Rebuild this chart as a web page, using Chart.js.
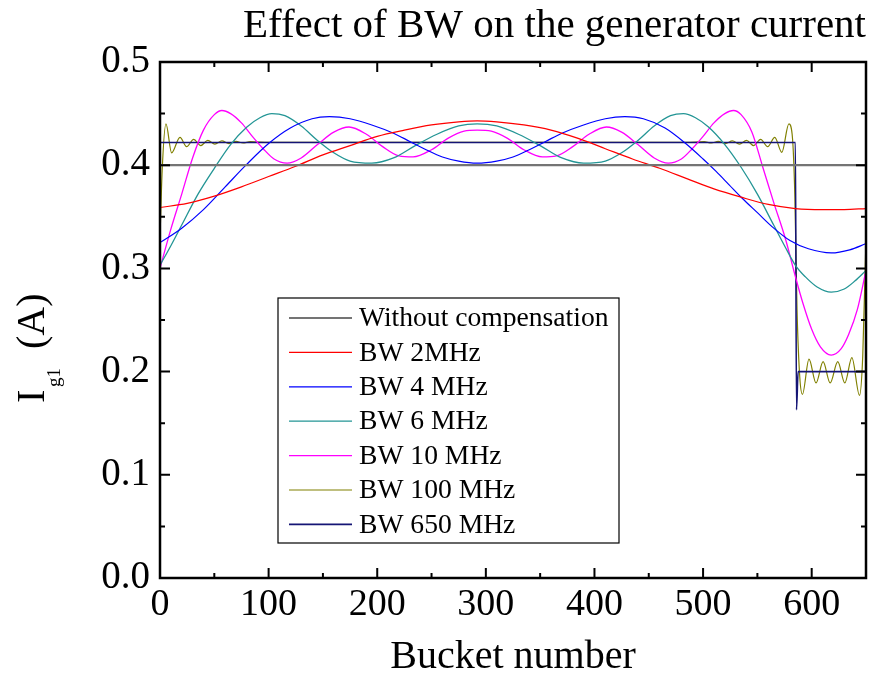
<!DOCTYPE html>
<html>
<head>
<meta charset="utf-8">
<title>Effect of BW on the generator current</title>
<script src="https://cdn.jsdelivr.net/npm/chart.js@4/dist/chart.umd.min.js"></script>
<style>
  body { margin: 0; background: #fff; }
  canvas { display: block; }
</style>
</head>
<body>
<canvas id="chart" width="874" height="681"></canvas>
<script>
// axis ticks
const bucketTicks = [0, 100, 200, 300, 400, 500, 600];
const currentTicks = [0, 0.1, 0.2, 0.3, 0.4, 0.5];

// [bucket, Ig1 (A)]
const noCompensation = [[0, 0.400], [650, 0.400]];

const bw2 = [[0, 0.359], [25, 0.363], [50, 0.370], [75, 0.379], [100, 0.389], [125, 0.399], [150, 0.410],
  [175, 0.419], [200, 0.428], [225, 0.434], [250, 0.439], [275, 0.442], [292, 0.443], [310, 0.442],
  [335, 0.439], [360, 0.434], [385, 0.426], [410, 0.416], [435, 0.406], [460, 0.397], [485, 0.387],
  [510, 0.377], [535, 0.369], [560, 0.362], [585, 0.358], [610, 0.357], [630, 0.357], [650, 0.358]];

const bw4 = [[0, 0.325], [20, 0.339], [40, 0.357], [60, 0.379], [80, 0.401], [100, 0.421], [120, 0.436],
  [140, 0.445], [156, 0.447], [175, 0.445], [195, 0.439], [215, 0.431], [230, 0.423], [245, 0.415],
  [260, 0.408], [275, 0.404], [292, 0.402], [310, 0.404], [325, 0.408], [340, 0.415], [355, 0.423],
  [370, 0.431], [390, 0.439], [410, 0.445], [428, 0.447], [445, 0.445], [465, 0.436], [484, 0.421],
  [500, 0.406], [512, 0.394], [524, 0.381], [536, 0.368], [550, 0.354], [564, 0.340], [580, 0.327],
  [597, 0.319], [618, 0.315], [635, 0.318], [650, 0.324]];

const bw6 = [[0, 0.303], [10, 0.322], [20, 0.342], [35, 0.372], [50, 0.397], [65, 0.420], [80, 0.437],
  [92, 0.446], [103, 0.450], [115, 0.448], [130, 0.438], [145, 0.424], [160, 0.412], [175, 0.404],
  [195, 0.402], [215, 0.407], [235, 0.419], [255, 0.430], [275, 0.438], [292, 0.440], [310, 0.438],
  [330, 0.430], [350, 0.419], [370, 0.407], [390, 0.402], [410, 0.404], [425, 0.412], [440, 0.424],
  [455, 0.438], [470, 0.448], [482, 0.450], [493, 0.446], [505, 0.437], [520, 0.420], [535, 0.398],
  [550, 0.372], [565, 0.342], [575, 0.322], [585, 0.303], [594, 0.292], [605, 0.282], [618, 0.277],
  [630, 0.280], [640, 0.288], [650, 0.298]];

const bw10 = [[0, 0.300], [10, 0.338], [20, 0.372], [30, 0.407], [40, 0.434], [50, 0.449], [57, 0.453],
  [65, 0.450], [75, 0.441], [85, 0.428], [95, 0.416], [105, 0.406], [117, 0.402], [130, 0.407],
  [145, 0.420], [160, 0.432], [174, 0.437], [190, 0.430], [205, 0.418], [220, 0.409], [233, 0.408],
  [250, 0.415], [265, 0.426], [280, 0.433], [292, 0.434], [305, 0.433], [320, 0.426], [335, 0.415],
  [352, 0.408], [365, 0.409], [380, 0.418], [395, 0.430], [411, 0.437], [425, 0.432], [440, 0.420],
  [455, 0.407], [468, 0.402], [480, 0.406], [490, 0.416], [500, 0.428], [510, 0.441], [520, 0.450],
  [528, 0.453], [535, 0.449], [545, 0.432], [555, 0.398], [565, 0.364], [576, 0.328], [585, 0.292],
  [592, 0.266], [600, 0.241], [608, 0.224], [618, 0.216], [627, 0.222], [634, 0.236], [642, 0.260],
  [650, 0.298]];

const bw100 = [[0, 0.330], [2, 0.395], [5.5, 0.440], [10.7, 0.412], [18.4, 0.427], [24.5, 0.418],
  [31, 0.425], [37.5, 0.419], [44, 0.424], [50.5, 0.4205], [57, 0.4235], [63.5, 0.421], [70, 0.423],
  [76.5, 0.4215], [83, 0.4228], [100, 0.4222], [485, 0.4222], [501, 0.4228], [507.5, 0.4215],
  [514, 0.423], [520.5, 0.421], [527, 0.4235], [533.5, 0.4205], [540, 0.424], [546.5, 0.419],
  [553, 0.425], [559.5, 0.418], [566, 0.427], [572.5, 0.4125], [579, 0.440], [582, 0.430],
  [584.5, 0.370], [586.5, 0.260], [589, 0.195], [591.5, 0.178], [597.5, 0.212], [604, 0.189],
  [610.5, 0.2096], [617, 0.189], [624, 0.2096], [630.5, 0.189], [637, 0.2135], [644, 0.177],
  [647, 0.215], [650, 0.330]];

const bw650 = [[0, 0.422], [585, 0.422], [586, 0.163], [587.5, 0.200], [650, 0.200]];

const seriesLabels = ['Without compensation', 'BW 2MHz', 'BW 4 MHz', 'BW 6 MHz', 'BW 10 MHz', 'BW 100 MHz', 'BW 650 MHz'];
const seriesData = [noCompensation, bw2, bw4, bw6, bw10, bw100, bw650];
const seriesColors = ['#747474', '#ff0000', '#0000ff', '#239595', '#ff00ff', '#808000', '#151575'];
const seriesWidths = [2.2, 1.2, 1.2, 1.3, 1.3, 1.2, 1.6];
const seriesOrder = [0, 0, 0, 0, 0, 1, 0]; // 100 MHz ringing sits under the 650 MHz line

const SERIF = "'Liberation Serif', 'Times New Roman', serif";

// box round the plot, with inward ticks on every side
const frameTicks = {
  id: 'frameTicks',
  afterDraw(chart) {
    const {ctx, chartArea: a, scales: {x, y}} = chart;
    ctx.save();
    ctx.strokeStyle = '#000';
    ctx.lineWidth = 2.5;
    ctx.strokeRect(a.left, a.top, a.right - a.left, a.bottom - a.top);
    ctx.lineWidth = 2;
    ctx.beginPath();
    const xMinor = bucketTicks.map(v => v + 50);
    bucketTicks.forEach(v => {
      const px = x.getPixelForValue(v);
      ctx.moveTo(px, a.bottom); ctx.lineTo(px, a.bottom - 10);
      ctx.moveTo(px, a.top); ctx.lineTo(px, a.top + 10);
    });
    xMinor.forEach(v => {
      const px = x.getPixelForValue(v);
      ctx.moveTo(px, a.bottom); ctx.lineTo(px, a.bottom - 5);
      ctx.moveTo(px, a.top); ctx.lineTo(px, a.top + 5);
    });
    currentTicks.forEach((v, i) => {
      const py = y.getPixelForValue(v);
      ctx.moveTo(a.left, py); ctx.lineTo(a.left + 10, py);
      ctx.moveTo(a.right, py); ctx.lineTo(a.right - 10, py);
      if (i < currentTicks.length - 1) {
        const pm = y.getPixelForValue((v + currentTicks[i + 1]) / 2);
        ctx.moveTo(a.left, pm); ctx.lineTo(a.left + 5, pm);
        ctx.moveTo(a.right, pm); ctx.lineTo(a.right - 5, pm);
      }
    });
    ctx.stroke();
    ctx.restore();
  }
};

// legend box inside the plot
const boxLegend = {
  id: 'boxLegend',
  afterDraw(chart) {
    const {ctx} = chart;
    const left = 278, top = 298, right = 619, bottom = 543;
    ctx.save();
    ctx.fillStyle = '#fff';
    ctx.fillRect(left, top, right - left, bottom - top);
    ctx.strokeStyle = '#000';
    ctx.lineWidth = 1.2;
    ctx.strokeRect(left, top, right - left, bottom - top);
    ctx.font = '27.6px ' + SERIF;
    ctx.textBaseline = 'middle';
    ctx.fillStyle = '#000';
    chart.data.datasets.forEach((ds, i) => {
      const cy = 318 + i * 34.4;
      ctx.strokeStyle = ds.borderColor;
      ctx.lineWidth = ds.borderWidth;
      ctx.beginPath();
      ctx.moveTo(289, cy); ctx.lineTo(352, cy);
      ctx.stroke();
      ctx.fillText(ds.label, 359, cy + 1);
    });
    ctx.restore();
  }
};

// y title with subscript: I_g1 (A)
const yTitle = {
  id: 'yTitle',
  afterDraw(chart) {
    const {ctx} = chart;
    ctx.save();
    ctx.translate(44, 403);
    ctx.rotate(-Math.PI / 2);
    ctx.fillStyle = '#000';
    ctx.textBaseline = 'alphabetic';
    ctx.font = '40px ' + SERIF;
    ctx.fillText('I', 0, 0);
    ctx.font = '19px ' + SERIF;
    ctx.fillText('g1', 16, 16);
    ctx.font = '40px ' + SERIF;
    ctx.fillText('(A)', 54, 0);
    ctx.restore();
  }
};

new Chart(document.getElementById('chart'), {
  type: 'line',
  data: {
    datasets: seriesData.map((pts, i) => ({
      label: seriesLabels[i],
      data: pts.map(p => ({x: p[0], y: p[1]})),
      borderColor: seriesColors[i],
      borderWidth: seriesWidths[i],
      order: seriesOrder[i],
      pointRadius: 0,
      fill: false,
      cubicInterpolationMode: 'monotone'
    }))
  },
  options: {
    responsive: false,
    animation: false,
    layout: {padding: {left: 0, right: 8, top: 0, bottom: 0}},
    plugins: {
      legend: {display: false},
      tooltip: {enabled: false},
      title: {
        display: true,
        text: 'Effect of BW on the generator current',
        align: 'end',
        color: '#000',
        font: {family: SERIF, size: 41, weight: 'normal', lineHeight: 1.2},
        padding: {top: 2, bottom: 10.8}
      }
    },
    scales: {
      x: {
        type: 'linear',
        min: 0,
        max: 650,
        afterBuildTicks: s => { s.ticks = bucketTicks.map(v => ({value: v})); },
        afterFit: s => { s.height = 103; },
        grid: {display: false, drawTicks: false},
        border: {display: false},
        ticks: {color: '#000', padding: 4, maxRotation: 0, font: {family: SERIF, size: 38}},
        title: {
          display: true,
          text: 'Bucket number',
          color: '#000',
          font: {family: SERIF, size: 40},
          padding: {top: 0, bottom: 0}
        }
      },
      y: {
        type: 'linear',
        min: 0,
        max: 0.5,
        afterBuildTicks: s => { s.ticks = currentTicks.map(v => ({value: v})); },
        afterFit: s => { s.width = 160; },
        grid: {display: false, drawTicks: false},
        border: {display: false},
        ticks: {
          color: '#000',
          padding: 10,
          font: {family: SERIF, size: 39},
          callback: v => v.toFixed(1)
        }
      }
    }
  },
  plugins: [frameTicks, boxLegend, yTitle]
});
</script>
</body>
</html>
